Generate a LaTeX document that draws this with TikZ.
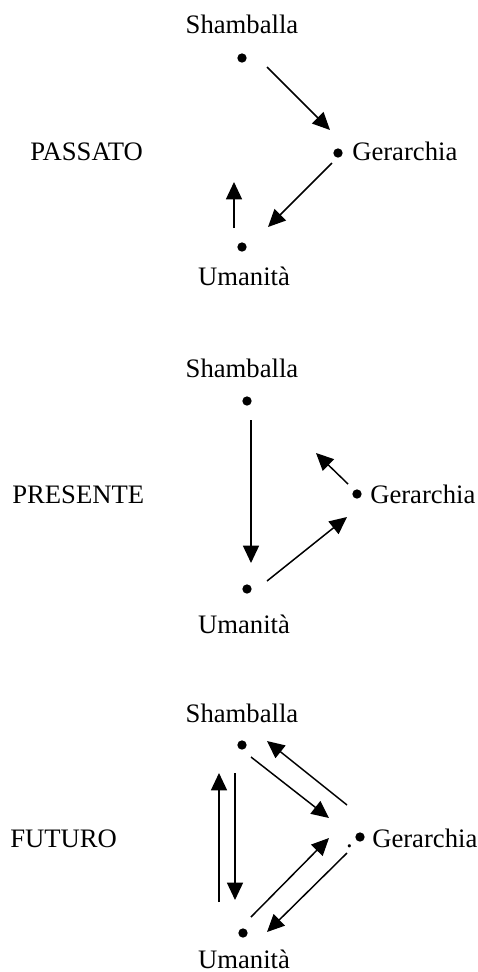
\documentclass[tikz,border=0pt]{standalone}
\usepackage{fontspec}
\setmainfont{Liberation Serif}
\usetikzlibrary{calc,arrows.meta}

\begin{document}
\begin{tikzpicture}[x=0.75pt,y=-0.75pt]
    \tikzstyle{every node}=[inner sep=0,font=\fontsize{20}{24}\selectfont]
    \tikzstyle{dot}=[circle,fill=black,minimum size=7pt]
    \tikzstyle{arr}=[line width=1.1pt,-{Triangle[length=13pt,width=12pt]}]
    \useasboundingbox (0,0) rectangle (478,972);
    % passato
    {
        \node[anchor=base west] (t1) at (30,160) {PASSATO};
        \node[dot] (s1) at (242,58) {};
        \node[dot] (g1) at (338,153) {};
        \node[dot] (u1) at (242,247) {};
        \node[anchor=base] (ls1) at (242,33) {Shamballa};
        \node[anchor=base west] (lg1) at (352,160) {Gerarchia};
        \node[anchor=base] (lu1) at (244,285) {Umanità};
        \draw[arr] ($(s1)+(25,9)$) -- ($(g1)+(-8,-23)$);
        \draw[arr] ($(g1)+(-6,10)$) -- ($(u1)+(26,-20)$);
        \draw[arr] ($(u1)+(-8,-19)$) -- ($(u1)+(-8,-65)$);
    }
    % presente
    {
        \node[anchor=base west] (t2) at (12,503) {PRESENTE};
        \node[dot] (s2) at (247,401) {};
        \node[dot] (g2) at (357,494) {};
        \node[dot] (u2) at (247,589) {};
        \node[anchor=base] (ls2) at (242,377) {Shamballa};
        \node[anchor=base west] (lg2) at (370,503) {Gerarchia};
        \node[anchor=base] (lu2) at (244,633) {Umanità};
        \draw[arr] ($(s2)+(4,19)$) -- ($(u2)+(4,-26)$);
        \draw[arr] ($(g2)+(-9,-10)$) -- ($(g2)+(-41,-41)$);
        \draw[arr] ($(u2)+(20,-8)$) -- ($(g2)+(-10,23)$);
    }
    % futuro
    {
        \node[anchor=base west] (t3) at (10,847) {FUTURO};
        \node[dot] (s3) at (242,745) {};
        \node[dot] (g3) at (360,837) {};
        \node[dot] (u3) at (243,933) {};
        \node[anchor=base east] (p3) at ($(g3.west)+(-2,10)$) {.};
        \node[anchor=base] (ls3) at (242,722) {Shamballa};
        \node[anchor=base west] (lg3) at (372,847) {Gerarchia};
        \node[anchor=base] (lu3) at (244,968) {Umanità};
        \draw[arr] ($(u3)+(-24,-31)$) -- ($(s3)+(-23,28)$);
        \draw[arr] ($(s3)+(-7,28)$) -- ($(u3)+(-8,-33)$);
        \draw[arr] ($(s3)+(9,12)$) -- ($(g3)+(-31,-19)$);
        \draw[arr] ($(g3)+(-13,-32)$) -- ($(s3)+(25,-4)$);
        \draw[arr] ($(u3)+(8,-16)$) -- ($(g3)+(-31,1)$);
        \draw[arr] ($(g3)+(-13,16)$) -- ($(u3)+(24,-1)$);
    }
\end{tikzpicture}
\end{document}
